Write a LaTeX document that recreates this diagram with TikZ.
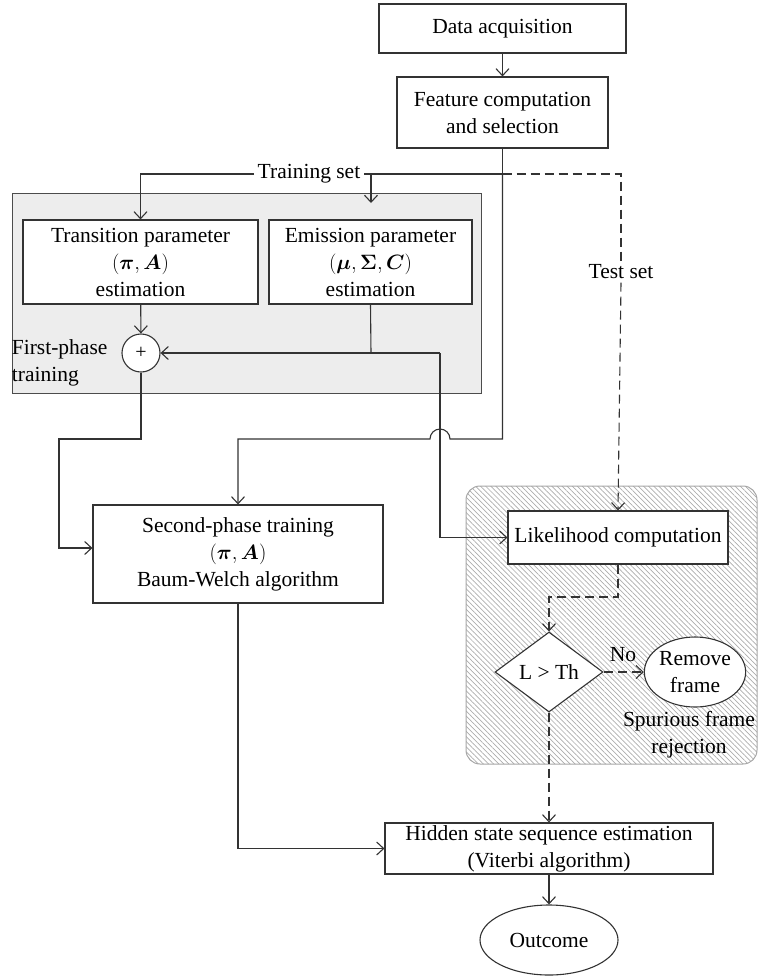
\documentclass[tikz,border=0pt]{standalone}
\usepackage{amsmath}
\usepackage{fontspec}
\setmainfont{Liberation Serif}
\usetikzlibrary{shapes.geometric,arrows.meta,patterns.meta}

\begin{document}
\begin{tikzpicture}[x=1pt,y=1pt,line width=1.1pt,font=\fontsize{21.5}{27}\selectfont]

      \tikzset{box/.style={draw=black!80, fill=white, align=center, inner sep=0pt},
               arr/.style={draw=black!80, -{Straight Barb[length=7pt,width=13pt]}},
               wire/.style={draw=black!80},
               dashline/.style={draw=black!80, dash pattern=on 9pt off 5pt},
               lbl/.style={fill=white, inner sep=3pt}}
      \useasboundingbox (0,0) rectangle (758,-978);
% Panels
	%First phase
	\fill[gray!14] (12,-193) rectangle (481,-393);
	\draw[black!70, line width=1pt] (12,-193) rectangle (481,-393);
	%Rejection
	\draw[gray!70, line width=1pt, rounded corners=14pt, pattern={Lines[angle=-45,distance=3.6pt,line width=0.7pt]}, pattern color=gray!65] (466,-486) rectangle (757,-764);
% Nodes
	%Top
      	\node[box, minimum width=247pt, minimum height=49pt] (data) at (502.5,-28.5) {Data acquisition};
      	\node[box, minimum width=211pt, minimum height=71pt] (feat) at (502.5,-112.5) {Feature computation\\and selection};
	%First phase
      	\node[box, minimum width=235pt, minimum height=84pt] (trans) at (140.5,-262) {Transition parameter\\$(\boldsymbol{\pi}, \boldsymbol{A})$\\estimation};
      	\node[box, minimum width=203pt, minimum height=84pt] (emis) at (370.5,-262) {Emission parameter\\$(\boldsymbol{\mu}, \boldsymbol{\Sigma}, \boldsymbol{C})$\\estimation};
      	\node[draw=black!80, fill=white, circle, minimum size=38pt, inner sep=0pt, font=\fontsize{20}{20}\selectfont] (plus) at (141,-353) {+};
      	\node[anchor=west, align=left] (phase1) at (8,-363) {First-phase\\training};
	%Second phase
      	\node[box, minimum width=290pt, minimum height=98pt] (second) at (238,-554) {Second-phase training\\$(\boldsymbol{\pi}, \boldsymbol{A})$\\Baum-Welch algorithm};
	%Rejection
      	\node[box, minimum width=220pt, minimum height=53pt] (lik) at (618,-537.5) {Likelihood computation};
      	\node[box, diamond, minimum width=108pt, minimum height=80pt] (test) at (549,-672) {L > Th};
      	\node[box, ellipse, minimum width=100pt, minimum height=70pt] (remove) at (695,-672) {Remove\\frame};
      	\node[align=center] (spur) at (689,-735) {Spurious frame\\rejection};
	%Bottom
      	\node[box, minimum width=328pt, minimum height=51pt] (hidden) at (549,-848.5) {Hidden state sequence estimation\\(Viterbi algorithm)};
      	\node[box, ellipse, minimum width=138pt, minimum height=70pt] (out) at (549,-940) {Outcome};
	%Labels
      	\node[lbl] (trainset) at (309,-174) {Training set};
      	\node[lbl] (testset) at (621,-272) {Test set};
      	\node (no) at (623,-655) {No};
% Corners
      	\coordinate (j1) at (502.5,-174);
      	\coordinate (es) at (371,-174);
      	\coordinate (et) at (371,-203);
      	\coordinate (j2) at (371,-353);
      	\coordinate (r) at (440,-353);
      	\coordinate (fb) at (502.5,-439);
      	\coordinate (jump) at (450,-439);
      	\coordinate (pb) at (59,-439);
      	\coordinate (lk) at (618,-597);
% Edges
	%Top
		\path[arr] (data) edge (feat);
		\draw[wire] (feat) -- (j1) -- (trainset.east);
		\draw[arr] (trainset.west) -| (trans.north);
		\draw[arr] (es) -- (et);
		\draw[arr] (j1) -- (fb) -- (jump) arc[start angle=0, end angle=180, radius=10pt] -| (second.north);
		\draw[dashline] (j1) -| (testset.north);
		\draw[dashline, arr] (testset.south) -- (lik.north);
	%First phase
		\path[arr] (trans) edge (plus);
		\draw[wire] (emis.south) -- (j2);
		\draw[arr] (r) -- (plus.east);
		\draw[arr] (r) |- (lik.west);
		\draw[arr] (plus.south) |- (pb) |- ([yshift=6pt]second.west);
	%Rejection
		\draw[dashline, arr] (lik.south) -- (lk) -| (test.north);
		\draw[dashline, arr] (test.east) -- (remove.west);
		\draw[dashline, arr] (test.south) -- (hidden.north);
	%Bottom
		\draw[arr] (second.south) |- (hidden.west);
		\path[arr] (hidden) edge (out);

\end{tikzpicture}
\end{document}
